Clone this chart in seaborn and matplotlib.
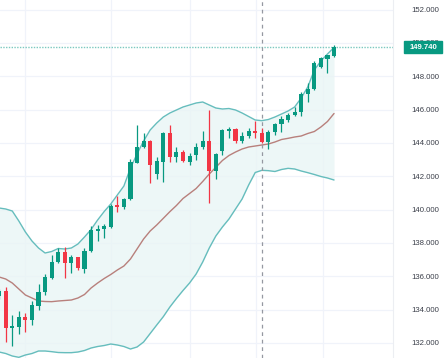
import numpy as np
import pandas as pd
import matplotlib
matplotlib.use("Agg")
import matplotlib.pyplot as plt
from matplotlib.patches import Rectangle
import seaborn as sns

# ---- data ----
opens = [134.81, 135.11, 132.91, 132.98, 133.55, 133.37, 134.24, 135.05, 135.92, 136.85,
         137.45, 136.77, 137.13, 136.46, 137.54, 138.71, 138.81, 138.97, 140.24, 140.13,
         140.61, 142.81, 143.77, 144.13, 142.13, 142.87, 144.57, 143.17, 143.47, 142.87,
         143.27, 143.73, 144.11, 142.33, 143.53, 144.73, 144.83, 144.13, 144.43, 144.73,
         144.57, 144.07, 144.67, 145.11, 145.37, 145.67, 145.87, 146.93, 147.21, 148.57,
         149.01, 149.21]
highs = [135.23, 135.35, 133.67, 133.91, 133.81, 134.51, 135.51, 136.16, 137.27, 137.67,
         137.77, 137.27, 137.15, 137.71, 139.04, 139.10, 139.13, 140.33, 140.84, 140.69,
         143.03, 145.07, 144.57, 144.17, 143.17, 144.65, 145.07, 143.73, 143.57, 143.37,
         143.97, 144.73, 145.97, 143.39, 144.81, 144.97, 144.86, 144.67, 144.89, 145.33,
         144.87, 144.77, 145.19, 145.61, 145.77, 146.17, 147.07, 147.61, 148.93, 149.13,
         149.27, 149.87]
lows = [134.63, 132.07, 131.81, 132.53, 132.65, 133.07, 133.97, 134.87, 135.81, 136.77,
        135.89, 136.21, 136.37, 136.21, 137.48, 138.14, 138.32, 138.89, 139.88, 140.06,
        140.57, 142.77, 143.67, 141.57, 141.81, 141.67, 142.87, 142.87, 142.85, 142.67,
        142.97, 143.61, 140.37, 141.81, 143.27, 144.27, 143.97, 143.97, 144.29, 144.27,
        143.97, 143.61, 144.47, 144.67, 145.27, 145.61, 145.61, 146.47, 147.17, 148.47,
        148.17, 149.17]
closes = [135.11, 132.91, 133.03, 133.55, 133.37, 134.27, 135.05, 135.95, 136.85, 137.45,
          136.77, 137.12, 136.46, 137.53, 138.77, 138.83, 139.01, 140.21, 140.15, 140.63,
          142.83, 143.77, 144.13, 142.67, 142.91, 144.61, 143.17, 143.47, 142.93, 143.21,
          143.73, 144.11, 142.31, 143.33, 144.77, 144.81, 144.13, 144.41, 144.73, 144.57,
          144.07, 144.67, 145.13, 145.41, 145.67, 145.87, 146.93, 147.21, 148.81, 149.07,
          149.27, 149.74]
upper = [140.09, 140.03, 139.91, 139.31, 138.65, 138.11, 137.69, 137.39, 137.48, 137.66,
         137.63, 137.69, 137.93, 138.35, 138.80, 139.37, 139.88, 140.33, 140.87, 141.41,
         142.49, 143.33, 144.11, 144.77, 145.19, 145.55, 145.79, 145.97, 146.15, 146.27,
         146.39, 146.45, 146.27, 146.09, 146.03, 146.06, 145.97, 145.79, 145.58, 145.37,
         145.33, 145.40, 145.55, 145.73, 145.91, 146.15, 146.69, 147.35, 148.37, 148.91,
         149.33, 149.72]
middle = [135.95, 135.83, 135.59, 135.23, 134.87, 134.69, 134.51, 134.48, 134.47, 134.51,
          134.54, 134.57, 134.69, 134.90, 135.29, 135.59, 135.86, 136.10, 136.37, 136.61,
          137.03, 137.63, 138.23, 138.71, 139.07, 139.47, 139.87, 140.24, 140.66, 140.96,
          141.26, 141.68, 142.13, 142.53, 142.94, 143.24, 143.45, 143.63, 143.75, 143.81,
          143.87, 143.93, 144.05, 144.20, 144.27, 144.35, 144.41, 144.56, 144.68, 144.95,
          145.28, 145.76]
lower = [131.45, 131.36, 131.21, 131.13, 131.27, 131.36, 131.51, 131.51, 131.47, 131.42,
         131.41, 131.41, 131.45, 131.54, 131.69, 131.78, 131.84, 131.93, 131.87, 131.78,
         131.63, 131.75, 132.05, 132.56, 133.07, 133.57, 134.15, 134.66, 135.14, 135.59,
         136.13, 136.85, 137.69, 138.41, 138.95, 139.43, 140.03, 140.63, 141.47, 142.22,
         142.35, 142.33, 142.28, 142.40, 142.47, 142.43, 142.31, 142.21, 142.10, 141.98,
         141.89, 141.77]
price_ticks = [132, 134, 136, 138, 140, 142, 144, 146, 148, 150, 152]
last_price = 149.74
marker_bar = 40          # dashed vertical cursor line (bar number)
time_grid = [3.98, 17.1, 29.1, 39.1, 49.3]

# ---- style ----
sns.set_theme(style="white")
plt.rcParams['font.family'] = ['Liberation Sans', 'DejaVu Sans']

UP = "#089981"
DOWN = "#F23645"
BAND = "#66bdbd"
BASIS = "#b8807c"

n = len(closes)
df = pd.DataFrame({"bar": np.arange(n), "open": opens, "high": highs, "low": lows,
                   "close": closes, "upper": upper, "middle": middle, "lower": lower})

W, H = 446, 358
fig = plt.figure(figsize=(W / 100, H / 100), dpi=100)
ax = fig.add_axes([0, 0, 393 / W, 1])

# bands
ax.fill_between(df["bar"], df["lower"], df["upper"], color="#e9f5f5", alpha=0.8, lw=0, zorder=1)
sns.lineplot(data=df, x="bar", y="upper", ax=ax, color=BAND, lw=1.0, zorder=2)
sns.lineplot(data=df, x="bar", y="lower", ax=ax, color=BAND, lw=1.0, zorder=2)
sns.lineplot(data=df, x="bar", y="middle", ax=ax, color=BASIS, lw=1.0, zorder=2)

# candles
cols = [UP if c >= o else DOWN for o, c in zip(df["open"], df["close"])]
ax.vlines(df["bar"], df["low"], df["high"], colors=cols, lw=0.9, zorder=3)
body = (df["close"] - df["open"]).values
body = np.where(np.abs(body) < 0.08, np.sign(body + 1e-9) * 0.08, body)
ax.bar(df["bar"], body, bottom=df["open"], width=0.62, color=cols, lw=0, zorder=4)

# last price dotted line and cursor
ax.axhline(last_price, color="#7cc9c0", ls=(0, (1, 1)), lw=1.0, zorder=2)
ax.axvline(marker_bar, color="#9598a1", ls=(0, (3, 3)), lw=0.9, zorder=2)

# axes / grid
ax.set_xlim(0.132, 59.98)
ax.set_ylim(131.09, 152.57)
ax.set_yticks(price_ticks)
ax.set_yticklabels([f"{t:.3f}" for t in price_ticks])
ax.set_xticks(time_grid)
ax.set_xticklabels([])
ax.yaxis.tick_right()
ax.tick_params(axis="y", length=0, pad=13, labelsize=5.6, labelcolor="#3b3f4a")
ax.tick_params(axis="x", length=0)
ax.grid(True, color="#f0f3fa", lw=0.9)
ax.set_axisbelow(True)
ax.set_xlabel("")
ax.set_ylabel("")
for s in ["top", "left", "bottom"]:
    ax.spines[s].set_visible(False)
ax.spines["right"].set_color("#eceef2")
ax.spines["right"].set_linewidth(0.8)

# last price label
ypix = (152.57 - last_price) / (152.57 - 131.09) * H
fig.add_artist(Rectangle((404 / W, 1 - (ypix + 6) / H), 38 / W, 12 / H,
                         transform=fig.transFigure, color=UP, zorder=10))
fig.text(423 / W, 1 - ypix / H, f"{last_price:.3f}", color="white", fontsize=5.6,
         fontweight="bold", ha="center", va="center", zorder=11)

fig.savefig("out.png", dpi=100)
